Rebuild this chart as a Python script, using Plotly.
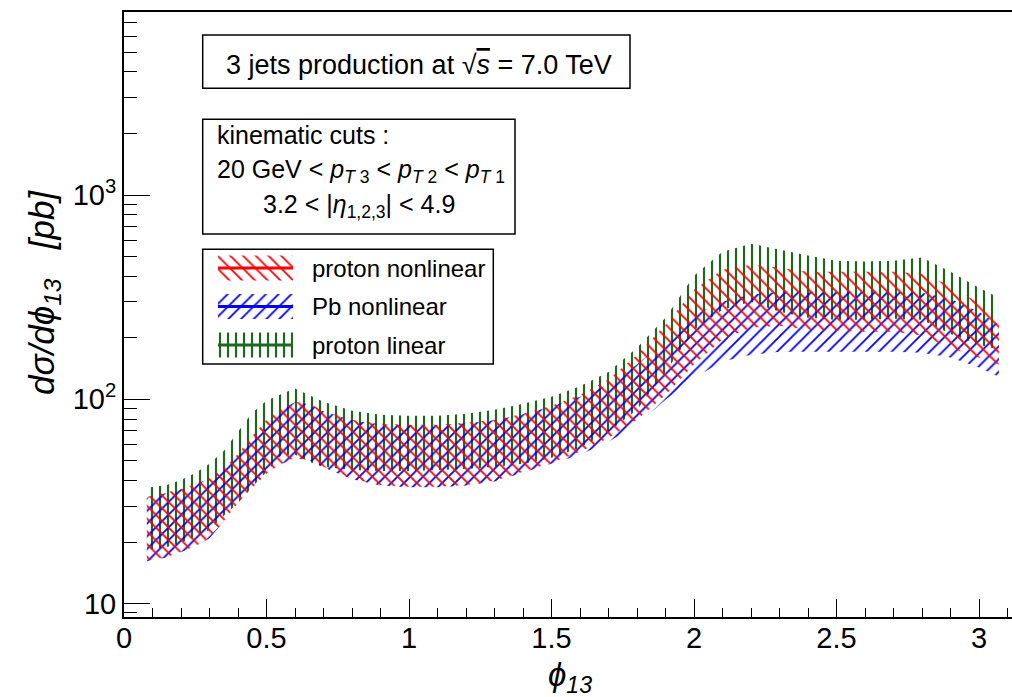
import plotly.graph_objects as go

# ---------------- data ----------------
phi = [0.08, 0.15, 0.2, 0.25, 0.3, 0.35, 0.4, 0.45, 0.5, 0.55, 0.6, 0.65, 0.7,
       0.8, 0.9, 1.0, 1.1, 1.2, 1.3, 1.4, 1.5, 1.6, 1.7, 1.8, 1.9, 2.0, 2.1,
       2.2, 2.3, 2.4, 2.5, 2.6, 2.7, 2.8, 2.9, 3.0, 3.07]

# proton nonlinear (red)
pn_hi = [33.3, 35.2, 36.4, 38.5, 41.2, 45.6, 54.1, 66.2, 79.4, 89.8, 97.2, 95.1, 87.8,
         79.4, 75.9, 75.0, 75.0, 76.7, 79.4, 84.9, 92.9, 105, 125, 165, 232, 344, 431,
         456, 441, 421, 421, 421, 421, 412, 360, 294, 251]
pn_lo = [16.2, 16.9, 17.9, 19.1, 21.0, 25.4, 31.1, 36.9, 43.2, 48.3, 51.7, 50.5, 46.7,
         40.8, 38.1, 37.3, 37.3, 38.1, 39.9, 44.1, 48.9, 55.3, 64.7, 79.4, 105, 148, 196,
         224, 229, 219, 217, 214, 214, 205, 179, 160, 148]

# Pb nonlinear (blue)
pb_hi = [33.0, 35.0, 36.2, 38.4, 41.0, 45.4, 53.8, 65.8, 79.0, 89.3, 96.6, 94.6, 87.4,
         79.0, 75.5, 74.6, 74.6, 76.3, 79.0, 84.5, 92.3, 103, 118, 148, 196, 259, 300,
         325, 336, 336, 336, 336, 336, 332, 311, 268, 232]
pb_lo = [16.1, 16.8, 17.8, 19.0, 20.9, 25.2, 30.9, 36.7, 43.0, 48.1, 51.4, 50.2, 46.4,
         40.6, 37.9, 37.1, 37.1, 37.9, 39.6, 43.8, 48.5, 53.5, 61.9, 75.0, 99.4, 127, 153,
         165, 171, 171, 171, 171, 171, 169, 160, 143, 129]

# proton linear (green)
pl_hi = [36.9, 38.1, 40.3, 43.6, 48.3, 55.9, 69.3, 85.9, 98.3, 106, 113, 105, 97.2,
         87.8, 84.0, 83.0, 83.0, 84.9, 88.8, 95.1, 103, 116, 136, 179, 251, 403, 528,
         578, 540, 505, 477, 472, 477, 494, 421, 352, 314]
pl_lo = [18.3, 18.9, 19.8, 21.2, 22.9, 26.9, 31.1, 37.3, 44.1, 52.9, 53.5, 49.4, 46.7,
         45.1, 44.6, 44.6, 45.1, 45.6, 46.7, 48.3, 51.7, 57.9, 69.3, 88.8, 136, 219, 274,
         300, 268, 251, 245, 245, 248, 245, 209, 185, 175]

series_names = ["proton nonlinear", "Pb nonlinear", "proton linear"]

x_tickvals = [0, 0.5, 1, 1.5, 2, 2.5, 3]
x_ticktext = ["0", "0.5", "1", "1.5", "2", "2.5", "3"]
y_tickvals = [10, 100, 1000]
y_ticktext = ["10", "10<sup>2</sup>", "10<sup>3</sup>"]
y_minorvals = [9, 20, 30, 40, 50, 60, 70, 80, 90,
               200, 300, 400, 500, 600, 700, 800, 900,
               2000, 3000, 4000, 5000, 6000, 7000]

# ---------------- layout geometry (pixels) ----------------
W, H = 1012, 697
PL, PR, PT, PB = 124, 1012, 12, 616.7
X_MAX = (PR - PL) / 285.0
LOG_MIN, LOG_MAX = 0.9359, 3.8957

FONT = "Liberation Sans, Arial, Helvetica, sans-serif"
RED = "#ff0000"
BLUE = "#0000ff"
GREEN = "#1a6a1a"

fig = go.Figure()


def band(lo, hi, shape, color, size, sol):
    return go.Scatter(
        x=list(phi) + list(phi)[::-1],
        y=list(hi) + list(lo)[::-1],
        mode="lines", fill="toself",
        line=dict(width=0, color=color),
        fillcolor="rgba(0,0,0,0)",
        fillpattern=dict(shape=shape, fgcolor=color, bgcolor="rgba(0,0,0,0)",
                         size=size, solidity=sol, fillmode="replace"),
        hoverinfo="skip", showlegend=False, xaxis="x", yaxis="y")


fig.add_trace(band(pl_lo, pl_hi, "|", GREEN, 8, 0.27))
fig.add_trace(band(pb_lo, pb_hi, "/", BLUE, 9, 0.2))
fig.add_trace(band(pn_lo, pn_hi, "\\", RED, 9, 0.2))

# ---------------- legend (drawn in pixel overlay axes) ----------------
leg_rows = [(268, "\\", RED, 9, 0.2), (306.5, "/", BLUE, 9, 0.2), (345, "|", GREEN, 8, 0.27)]
for (yc, shp, col, sz, sol), name in zip(leg_rows, series_names):
    x0, x1, y0, y1 = 218, 293, yc - 12.5, yc + 12.5
    fig.add_trace(go.Scatter(
        x=[x0, x1, x1, x0, x0], y=[y0, y0, y1, y1, y0],
        mode="lines", fill="toself", line=dict(width=0, color=col),
        fillcolor="rgba(0,0,0,0)",
        fillpattern=dict(shape=shp, fgcolor=col, bgcolor="rgba(0,0,0,0)",
                         size=sz, solidity=sol, fillmode="replace"),
        hoverinfo="skip", showlegend=False, xaxis="x2", yaxis="y2"))
    fig.add_trace(go.Scatter(
        x=[x0, x1], y=[yc, yc], mode="lines", line=dict(width=3, color=col),
        hoverinfo="skip", showlegend=False, xaxis="x2", yaxis="y2"))

shapes = []
for (bx0, by0, bx1, by1) in [(202.7, 35, 630, 88.3), (202.7, 119.3, 515, 234), (202.7, 249.3, 493.3, 364)]:
    shapes.append(dict(type="rect", xref="x2", yref="y2", x0=bx0, y0=by0, x1=bx1, y1=by1,
                       line=dict(color="black", width=1.5), fillcolor="white", layer="below"))

annotations = []


def ann(x, y, text, size, xanchor="center", angle=0):
    annotations.append(dict(xref="x2", yref="y2", x=x, y=y, text=text, showarrow=False,
                            xanchor=xanchor, yanchor="middle", textangle=angle,
                            font=dict(family=FONT, size=size, color="black")))


ann(419, 65, '3 jets production at √<span style="text-decoration:overline"><i>s</i></span> = 7.0 TeV', 27)
ann(215, 135, "kinematic cuts :", 25, xanchor="left")
ann(361, 171, "20 GeV < <i>p</i><sub><i>T</i> 3</sub> < <i>p</i><sub><i>T</i> 2</sub> < <i>p</i><sub><i>T</i> 1</sub>", 25)
ann(359, 206, "3.2 < |<i>η</i><sub>1,2,3</sub>| < 4.9", 25)
for yc, name in zip([268, 306.5, 345], series_names):
    ann(310, yc, name, 24, xanchor="left")

# axis titles
ann(570, 677, "<i>ϕ</i><sub><i>13</i></sub>", 33)
ann(44, 293, "<i>dσ/dϕ</i><sub><i>13</i></sub>   <i>[pb]</i>", 35, angle=-90)

fig.update_layout(
    width=W, height=H,
    margin=dict(l=0, r=0, t=0, b=0),
    paper_bgcolor="white", plot_bgcolor="rgba(0,0,0,0)",
    showlegend=False,
    shapes=shapes, annotations=annotations,
    xaxis=dict(domain=[PL / W, PR / W], range=[0, X_MAX], showgrid=False, zeroline=False,
               showline=True, linecolor="black", linewidth=2, mirror=True,
               ticks="inside", ticklen=17.7, tickwidth=1, tickcolor="black",
               tickvals=x_tickvals, ticktext=x_ticktext, ticklabelstandoff=-6,
               tickfont=dict(family=FONT, size=29, color="black"),
               minor=dict(dtick=0.1, tick0=0, ticks="inside", ticklen=8.4, tickwidth=1,
                          tickcolor="black", showgrid=False),
               anchor="y", fixedrange=True, automargin=False),
    yaxis=dict(domain=[(H - PB) / H, (H - PT) / H], type="log", range=[LOG_MIN, LOG_MAX],
               showgrid=False, zeroline=False, showline=True, linecolor="black", linewidth=2,
               ticks="inside", ticklen=26, tickwidth=1, tickcolor="black",
               tickvals=y_tickvals, ticktext=y_ticktext,
               tickfont=dict(family=FONT, size=29, color="black"),
               minor=dict(tickvals=y_minorvals, ticks="inside", ticklen=12.7, tickwidth=1,
                          tickcolor="black", showgrid=False),
               anchor="x", fixedrange=True, automargin=False),
    xaxis2=dict(domain=[0, 1], range=[0, W], visible=False, anchor="y2", fixedrange=True),
    yaxis2=dict(domain=[0, 1], range=[H, 0], visible=False, anchor="x2", fixedrange=True),
)

POST = ("document.documentElement.style.margin='0';document.documentElement.style.padding='0';"
        "document.body.style.margin='0';document.body.style.padding='0';"
        "document.body.style.overflow='hidden';"
        "var d=document.getElementById('{plot_id}');"
        "d.style.position='absolute';d.style.left='0px';d.style.top='0px';")

fig.write_html("out.html", config={"displayModeBar": False, "responsive": False},
               post_script=POST)
